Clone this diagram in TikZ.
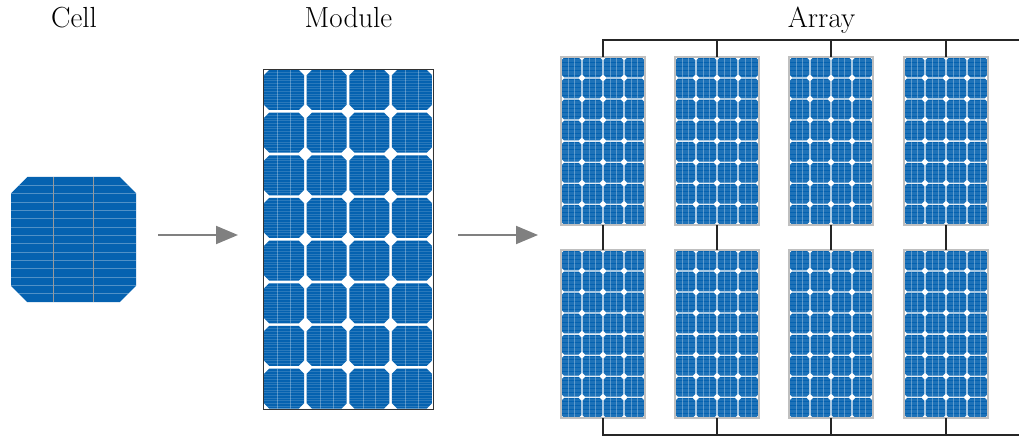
\documentclass[tikz,border=0pt]{standalone}
\usepackage{tikz}
\usetikzlibrary{arrows.meta,calc}

\definecolor{pvblue}{RGB}{5,98,176}
\newcommand{\titlefont}{\fontsize{21.8}{26}\selectfont}

% one pseudo-square wafer on the unit square, origin at the top left
\newcommand{\waferpath}{(0.13,0) -- (0.87,0) -- (1,0.13) -- (1,0.87) -- (0.87,1) -- (0.13,1) -- (0,0.87) -- (0,0.13) -- cycle}
\newcommand{\wafer}{%
  \fill[pvblue] \waferpath;
  \begin{scope}
    \clip \waferpath;
    \foreach \k in {1,...,14} \draw[finger] (0,\k/15) -- (1,\k/15);
    \draw[busbar] (0.34,0) -- (0.34,1) (0.66,0) -- (0.66,1);
  \end{scope}}
% 4 x 8 wafers on 170 x 340 units
\newcommand{\pvmodule}{%
  \foreach \i in {0,...,3}
    \foreach \j in {0,...,7}{
      \begin{scope}[shift={(1+42.65*\i,1+42.65*\j)},scale=40]
        \wafer
      \end{scope}}}

\tikzset{
  finger/.style={draw=white,opacity=0.15,line width=0.3pt},
  busbar/.style={draw=white,opacity=0.3,line width=0.5pt},
  panelbox/.style={minimum width=63pt,minimum height=126pt,inner sep=0pt,outer sep=0pt},
  panelframe/.style={draw=black!25,line width=1.2pt},
  wire/.style={draw=black!85,line width=1.1pt},
  flowarrow/.style={draw=gray,line width=1.5pt,-{Triangle[length=16.5pt,width=13.5pt]}},
}

\begin{document}
\begin{tikzpicture}[x=0.75pt,y=0.75pt,yscale=-1,xscale=1]
\useasboundingbox (0,0) rectangle (1019,438);

% Text Node
\node[anchor=base,inner sep=0.75pt] (celltitle) at (74,28) {\titlefont Cell};
% Text Node
\node[anchor=base,inner sep=0.75pt] (moduletitle) at (348.5,28) {\titlefont Module};
% Text Node
\node[anchor=base,inner sep=0.75pt] (arraytitle) at (821.5,28) {\titlefont Array};

%Shape: single cell
\node[minimum width=93.75pt,minimum height=93pt,inner sep=0pt,outer sep=0pt] (cell) at (73.5,239) {};
\begin{scope}[shift={(cell.north west)},scale=125,
    finger/.style={draw=white,opacity=0.3,line width=0.6pt},
    busbar/.style={draw=black!40,line width=1pt}]
  \wafer
\end{scope}

%Shape: module
\node[minimum width=127.5pt,minimum height=255pt,inner sep=0pt,outer sep=0pt] (module) at (348,239) {};
\begin{scope}[shift={(module.north west)}]
  \pvmodule
\end{scope}
\draw[draw=black!80,line width=0.6pt] (module.north west) rectangle (module.south east);

%Shape: array, two rows of four modules
\foreach \i/\x in {1/603,2/717,3/831,4/946}{
  \node[panelbox] (p1\i) at (\x,141) {};
  \node[panelbox] (p2\i) at (\x,334) {};
}
\foreach \r in {1,2}
  \foreach \i in {1,...,4}{
    \begin{scope}[shift={(p\r\i.north west)},scale=0.494,
        finger/.style={draw=white,opacity=0.1,line width=0.2pt},
        busbar/.style={draw=white,opacity=0.3,line width=0.4pt}]
      \pvmodule
    \end{scope}
    \draw[panelframe] (p\r\i.north west) rectangle (p\r\i.south east);
  }

%Straight Lines: wiring
\coordinate (busN) at (1019,40);
\coordinate (busS) at (1019,435);
\foreach \i in {1,...,4}{
  \draw[wire] (p1\i.north) |- (busN);
  \draw[wire] (p1\i.south) -- (p2\i.north);
  \draw[wire] (p2\i.south) |- (busS);
}

%Arrows
\draw[flowarrow] ($(cell.east)+(22,-4)$) -- ($(module.west)+(-25,-4)$);
\draw[flowarrow] ($(module.east)+(25,-4)$) -- ($(p11.west |- module.east)+(-23,-4)$);

\end{tikzpicture}
\end{document}
